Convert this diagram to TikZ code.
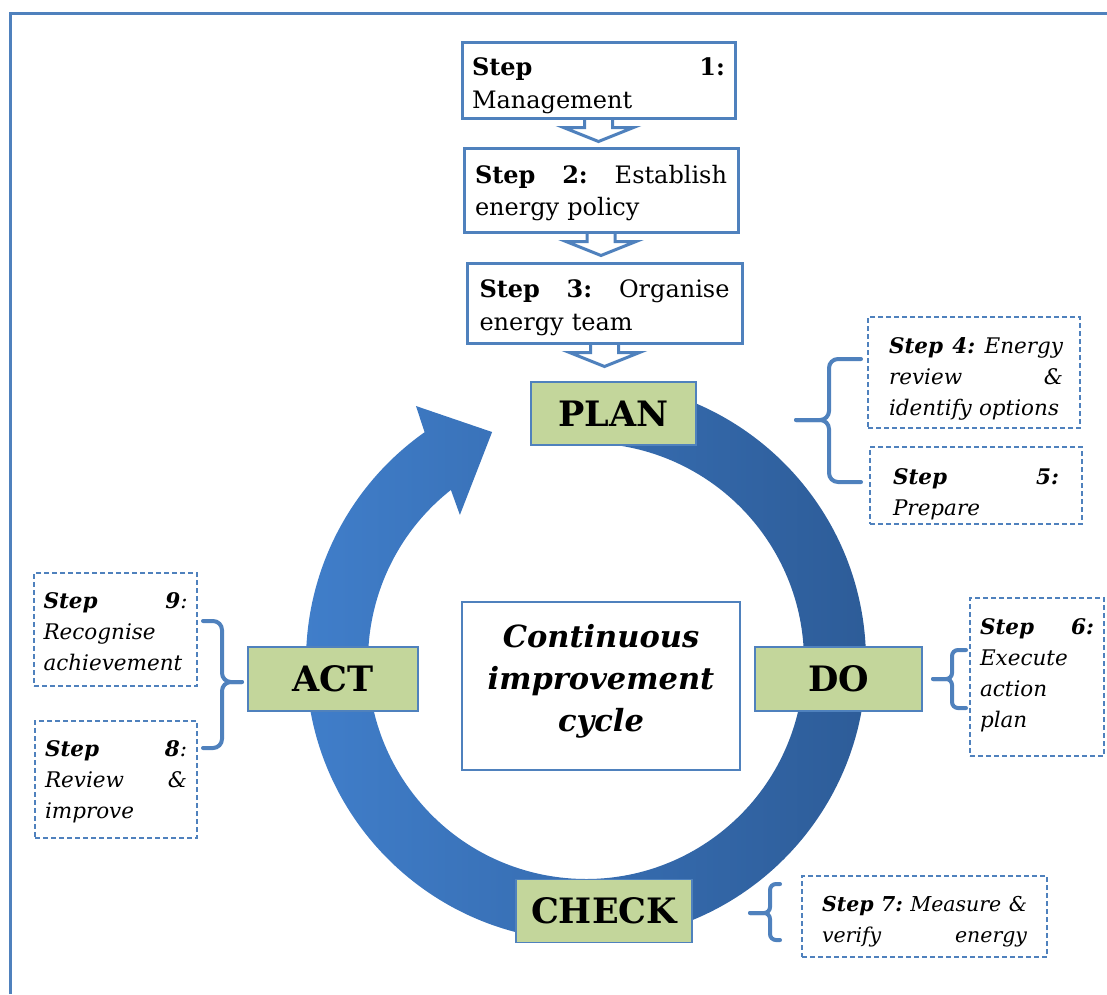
\documentclass[tikz,border=0pt]{standalone}
\usepackage{fontspec}
\setmainfont{DejaVu Serif}
\usetikzlibrary{calc}
\definecolor{bblue}{RGB}{79,129,189}
\definecolor{pgreen}{RGB}{195,214,155}
\definecolor{ringL}{RGB}{64,126,202}
\definecolor{ringR}{RGB}{45,92,152}
\pgfdeclarelayer{back}
\pgfsetlayers{back,main}
\begin{document}
\begin{tikzpicture}[x=1pt,y=-1pt,
  topbox/.style={draw=bblue, line width=3pt, fill=white, inner sep=0pt},
  toptext/.style={inner sep=0pt, align=left, font=\fontsize{24}{32.5}\selectfont},
  sidebox/.style={draw=bblue, line width=1.3pt, dash pattern=on 5pt off 3pt, fill=white, inner sep=0pt},
  sidetext/.style={inner sep=0pt, align=left, font=\fontsize{21.5}{31}\selectfont\itshape},
  phase/.style={draw=bblue, line width=1.5pt, fill=pgreen, inner sep=0pt, font=\fontsize{35}{40}\selectfont\bfseries},
  brace/.style={draw=bblue, line width=4pt, rounded corners=9pt, line cap=round},
  smallbrace/.style={brace, rounded corners=6pt},
  blockarr/.style={draw=bblue, line width=3pt, fill=white, line join=miter},
  frame/.style={draw=bblue, line width=3pt},
]
\useasboundingbox (0,0) rectangle (1107,994);
\draw[frame] (10,994) -- (10,13) -- (1107,13);

% ring arrow
\begin{scope}[shift={(586,661)},x=1pt,y=1pt]
\shade[left color=ringL, right color=ringR]
  (92:280) arc[start angle=92, end angle=-234.8, radius=280]
  -- (-236.3:306.5) -- (-247.7:247.5) -- (-229.2:193)
  -- (-231.7:218) arc[start angle=-231.7, end angle=92, radius=218] -- cycle;
\end{scope}

% top steps
\node[topbox, minimum width=273pt, minimum height=76pt] (s1) at (598.5,80) {};
\node[toptext, text width=253pt] (s1t) at ($(s1)+(0,6)$) {\textbf{Step}\hfill\textbf{1:}\\Management};
\node[topbox, minimum width=274pt, minimum height=84pt] (s2) at (601,190) {};
\node[toptext, text width=252pt] (s2t) at ($(s2)+(0,3)$) {\textbf{Step}\hfill\textbf{2:}\hfill Establish\\energy policy};
\node[topbox, minimum width=275pt, minimum height=80pt] (s3) at (604.5,303) {};
\node[toptext, text width=250pt] (s3t) at ($(s3)+(0,5)$) {\textbf{Step}\hfill\textbf{3:}\hfill Organise\\energy team};

% phases
\node[phase, minimum width=165pt, minimum height=63pt] (plan) at (613.5,413.5) {PLAN};
\node[phase, minimum width=170pt, minimum height=64pt] (act) at (333,679) {ACT};
\node[phase, minimum width=167pt, minimum height=64pt] (do) at (838.5,679) {DO};
\node[phase, minimum width=176pt, minimum height=63pt] (check) at (604,911) {CHECK};

% centre
\node[draw=bblue, line width=1.2pt, fill=white, minimum width=278pt, minimum height=168pt] (cyc) at (601,686) {};
\node[align=center, font=\fontsize{30.5}{42}\selectfont\bfseries\itshape, yshift=5pt] (cyct) at (cyc) {Continuous\\improvement\\cycle};

% side steps
\node[sidebox, minimum width=212pt, minimum height=111pt] (s4) at (974,372.5) {};
\node[sidetext, text width=174pt] (s4t) at ($(s4)+(2,6)$) {\textbf{Step}\hfill\textbf{4:}\hfill Energy\\review\hfill\&\\identify options};
\node[sidebox, minimum width=212pt, minimum height=77pt] (s5) at (976,485.5) {};
\node[sidetext, text width=166pt] (s5t) at ($(s5)+(0,9)$) {\textbf{Step}\hfill\textbf{5:}\\Prepare};
\node[sidebox, minimum width=134pt, minimum height=158pt] (s6) at (1037,677) {};
\node[sidetext, text width=114pt] (s6t) at ($(s6)+(0,-2)$) {\textbf{Step}\hfill\textbf{6:}\\Execute\\action\\plan};
\node[sidebox, minimum width=245pt, minimum height=81pt] (s7) at (924.5,916.5) {};
\node[sidetext, text width=205pt, font=\fontsize{20.5}{31}\selectfont\itshape] (s7t) at ($(s7)+(0,5)$) {\textbf{Step}\hfill\textbf{7:}\hfill Measure\hfill\&\\verify\hfill energy};
\node[sidebox, minimum width=163pt, minimum height=113pt] (s9) at (115.5,629.5) {};
\node[sidetext, text width=144pt] (s9t) at ($(s9)+(0,2)$) {\textbf{Step}\hfill\textbf{9}:\\Recognise\\achievement};
\node[sidebox, minimum width=162pt, minimum height=117pt] (s8) at (116,779.5) {};
\node[sidetext, text width=142pt] (s8t) at ($(s8)+(0,2)$) {\textbf{Step}\hfill\textbf{8}:\\Review\hfill\&\\improve};

% block arrows between top steps
\begin{pgfonlayer}{back}
\foreach \a in {s1,s2,s3} {
  \draw[blockarr] ($(\a.south)+(-14,-3)$) -- ($(\a.south)+(-14,8)$) -- ($(\a.south)+(-35,8)$)
    -- ($(\a.south)+(0,22)$) -- ($(\a.south)+(35,8)$) -- ($(\a.south)+(14,8)$) -- ($(\a.south)+(14,-3)$);
}
\end{pgfonlayer}

% braces
\draw[brace] (861,359) -- (829,359) -- (829,420) -- (796,420);
\draw[brace] (861,482) -- (829,482) -- (829,420) -- (796,420);
\draw[smallbrace] (966,650) -- (952,650) -- (952,679) -- (933,679);
\draw[smallbrace] (966,708) -- (952,708) -- (952,679) -- (933,679);
\draw[smallbrace] (780,884) -- (770,884) -- (770,913) -- (750,913);
\draw[smallbrace] (780,940) -- (770,940) -- (770,913) -- (750,913);
\draw[brace] (203,621) -- (222,621) -- (222,682) -- (242,682);
\draw[brace] (203,748) -- (222,748) -- (222,682) -- (242,682);
\end{tikzpicture}
\end{document}
